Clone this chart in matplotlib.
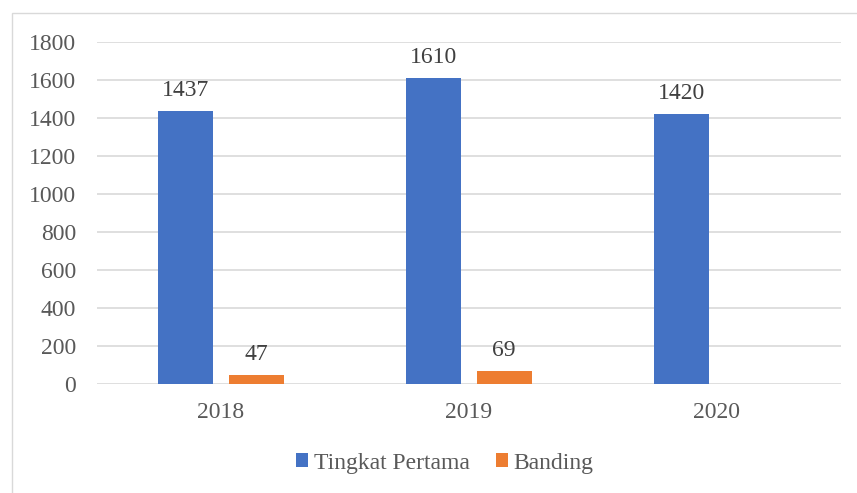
import matplotlib.pyplot as plt
import numpy as np
from matplotlib.patches import Rectangle

years = ["2018", "2019", "2020"]
tingkat_pertama = [1437, 1610, 1420]
banding = [47, 69, 0]
banding_labels = ["47", "69", ""]
y_ticks = [0, 200, 400, 600, 800, 1000, 1200, 1400, 1600, 1800]

BLUE = "#4472c4"
ORANGE = "#ed7d31"
GRID = "#d9d9d9"
TEXT = "#595959"
FS = 17

plt.rcParams['font.family'] = ['Liberation Serif', 'DejaVu Serif']

W, H = 857, 493
fig = plt.figure(figsize=(W / 100, H / 100), dpi=100)

# outer chart frame (cut off on the right and bottom)
fig.patches.append(Rectangle((12 / W, -0.1), 1.0, 1 - 13 / H + 0.1,
                             transform=fig.transFigure, fill=False,
                             edgecolor=GRID, linewidth=1.0))

ax = fig.add_axes([97 / W, 109 / H, (841 - 97) / W, (384 - 42) / H])

x = np.arange(len(years))
bw = 0.222
off = 0.142
b1 = ax.bar(x - off, tingkat_pertama, bw, color=BLUE, label="Tingkat Pertama", zorder=3)
b2 = ax.bar(x + off, banding, bw, color=ORANGE, label="Banding", zorder=3)

for rect, v in zip(b1, tingkat_pertama):
    ax.annotate(str(v), (rect.get_x() + rect.get_width() / 2, v),
                xytext=(0, 7), textcoords="offset points",
                ha="center", va="bottom", fontsize=FS, color="#404040")
for rect, v, lab in zip(b2, banding, banding_labels):
    ax.annotate(lab, (rect.get_x() + rect.get_width() / 2, v),
                xytext=(0, 7), textcoords="offset points",
                ha="center", va="bottom", fontsize=FS, color="#404040")

ax.set_xlim(-0.5, 2.5)
ax.set_ylim(0, 1800)
ax.set_yticks(y_ticks)
ax.set_xticks(x)
ax.set_xticklabels(years)
ax.tick_params(axis="both", length=0, labelsize=FS, labelcolor=TEXT)
ax.tick_params(axis="y", pad=15)
ax.tick_params(axis="x", pad=13)
ax.yaxis.grid(True, color=GRID, linewidth=1.2, zorder=0)
ax.set_axisbelow(True)
for s in ax.spines.values():
    s.set_visible(False)

fig.legend(handles=[b1, b2], loc="center", bbox_to_anchor=(445 / W, 1 - 463 / H),
           ncol=2, frameon=False, fontsize=FS, labelcolor=TEXT,
           handlelength=0.5, handleheight=0.5, handletextpad=0.25, columnspacing=1.1)

fig.savefig("out.png", dpi=100)
